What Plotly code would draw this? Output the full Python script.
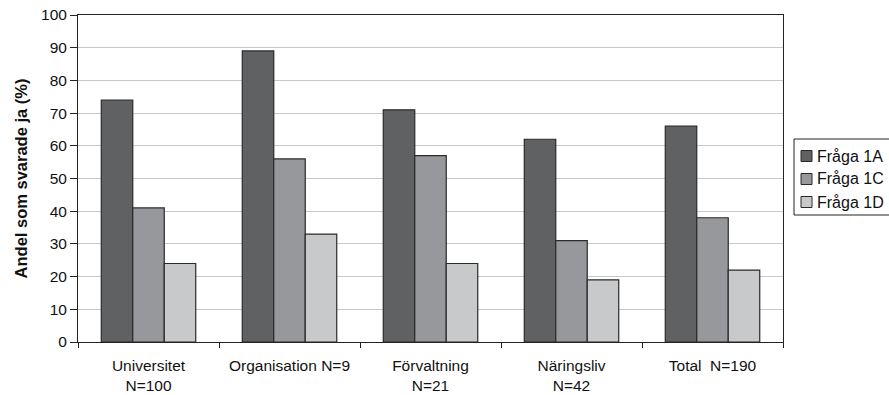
import plotly.graph_objects as go

categories = ["Universitet<br>N=100", "Organisation N=9", "Förvaltning<br>N=21", "Näringsliv<br>N=42", "Total  N=190"]
series_names = ["Fråga 1A", "Fråga 1C", "Fråga 1D"]
fraga_1a = [74, 89, 71, 62, 66]
fraga_1c = [41, 56, 57, 31, 38]
fraga_1d = [24, 33, 24, 19, 22]
y_ticks = list(range(0, 101, 10))

colors = ["#606163", "#97989b", "#c8c9cb"]

# plot-area pixel geometry (used only to place the hand-drawn legend box)
L, R, T, B = 78, 783, 15, 342
def px(x):
    return (x - L) / (R - L)
def py(y):
    return (B - y) / (B - T)

fig = go.Figure()
for name, vals, col in zip(series_names, [fraga_1a, fraga_1c, fraga_1d], colors):
    fig.add_trace(go.Bar(x=categories, y=vals, name=name, showlegend=False,
                         marker=dict(color=col, line=dict(color="#2a2a2a", width=1.2))))

font = "Liberation Sans, Arial, sans-serif"

# legend drawn as shapes + annotations (box runs past the right edge like the reference)
shapes = [dict(type="rect", xref="paper", yref="paper", x0=px(794), x1=px(905), y0=py(215), y1=py(139),
               line=dict(color="#222222", width=1), fillcolor="rgba(0,0,0,0)")]
annotations = []
for i, (name, col) in enumerate(zip(series_names, colors)):
    cy = 156 + i * 23
    shapes.append(dict(type="rect", xref="paper", yref="paper", x0=px(801), x1=px(812),
                       y0=py(cy + 5.5), y1=py(cy - 5.5), fillcolor=col,
                       line=dict(color="#2a2a2a", width=1)))
    annotations.append(dict(xref="paper", yref="paper", x=px(815), y=py(cy), text=name,
                            showarrow=False, xanchor="left", yanchor="middle",
                            font=dict(size=16, family=font, color="#111111")))

fig.update_layout(
    width=889, height=395,
    margin=dict(l=L, r=889 - R, t=T, b=395 - B, autoexpand=False),
    paper_bgcolor="white", plot_bgcolor="white",
    barmode="group", bargap=0.33, bargroupgap=0,
    font=dict(family=font, size=15.5, color="#111111"),
    showlegend=False,
    shapes=shapes, annotations=annotations,
    xaxis=dict(showline=True, linecolor="#222222", linewidth=1, mirror=True,
               ticks="outside", tickson="boundaries", ticklen=5, tickcolor="#222222",
               ticklabelstandoff=9, tickfont=dict(size=15.5)),
    yaxis=dict(range=[0, 100], tickvals=y_ticks, showline=True, linecolor="#222222", linewidth=1,
               mirror=True, ticks="outside", ticklen=7, tickcolor="#222222",
               showgrid=True, gridcolor="#c8c8c8", gridwidth=1,
               title=dict(text="<b>Andel som svarade ja (%)</b>", font=dict(size=16.5), standoff=9),
               tickfont=dict(size=15.5)),
)
fig.write_html("out.html", config={"displayModeBar": False},
               post_script="document.body.style.margin='0';document.body.style.overflow='hidden';document.documentElement.style.overflow='hidden';")
